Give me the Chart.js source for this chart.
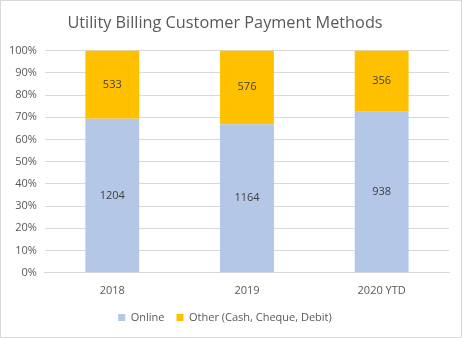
<!DOCTYPE html>
<html><head><meta charset="utf-8">
<script src="https://cdn.jsdelivr.net/npm/chart.js@4"></script>
<style>
html,body{margin:0;padding:0;background:#fff;}
#wrap{position:absolute;left:0;top:0;width:460px;height:336px;border:1px solid #d9d9d9;}
</style></head><body>
<div id="wrap"><canvas id="c" width="460" height="336"></canvas></div>
<script>
const categories = ["2018", "2019", "2020 YTD"];
const onlineCounts = [1204, 1164, 938];
const otherCounts = [533, 576, 356];
const seriesNames = ["Online", "Other (Cash, Cheque, Debit)"];
const tickLabels = ["0%","10%","20%","30%","40%","50%","60%","70%","80%","90%","100%"];

const totals = categories.map((_, i) => onlineCounts[i] + otherCounts[i]);
const onlinePct = onlineCounts.map((v, i) => v / totals[i] * 100);
const otherPct = otherCounts.map((v, i) => v / totals[i] * 100);

const FONT = '"Open Sans", "Liberation Sans", sans-serif';

const labelPlugin = {
  id: 'segLabels',
  afterDatasetsDraw(chart) {
    const ctx = chart.ctx;
    ctx.save();
    ctx.font = '11px ' + FONT;
    ctx.fillStyle = '#404040';
    ctx.textAlign = 'center';
    ctx.textBaseline = 'middle';
    chart.data.datasets.forEach((ds, di) => {
      const meta = chart.getDatasetMeta(di);
      meta.data.forEach((el, i) => {
        const y = (el.y + el.base) / 2;
        ctx.fillText(String(ds.counts[i]), el.x, y);
      });
    });
    ctx.restore();
  }
};

new Chart(document.getElementById('c'), {
  type: 'bar',
  data: {
    labels: categories,
    datasets: [
      { label: seriesNames[0], data: onlinePct, counts: onlineCounts, backgroundColor: '#b4c7e7', categoryPercentage: 1, barPercentage: 0.4 },
      { label: seriesNames[1], data: otherPct, counts: otherCounts, backgroundColor: '#ffc000', categoryPercentage: 1, barPercentage: 0.4 }
    ]
  },
  options: {
    responsive: false,
    animation: false,
    layout: { padding: { left: 0, right: 12, top: 4, bottom: 4 } },
    plugins: {
      title: { display: true, text: 'Utility Billing Customer Payment Methods', color: '#595959',
        font: { family: FONT, size: 16.3, weight: 'normal' }, padding: { top: 9, bottom: 17 } },
      legend: { position: 'bottom', labels: { boxWidth: 7, boxHeight: 7, color: '#595959', padding: 12,
        font: { family: FONT, size: 11 } } },
      tooltip: { enabled: false }
    },
    scales: {
      x: { stacked: true, grid: { display: false }, border: { color: '#d9d9d9' },
        ticks: { color: '#595959', font: { family: FONT, size: 11 } } },
      y: { stacked: true, min: 0, max: 100, border: { display: false },
        grid: { color: '#d9d9d9', drawTicks: false },
        ticks: { stepSize: 10, padding: 8, color: '#595959', font: { family: FONT, size: 11 },
          callback: (v) => tickLabels[Math.round(v / 10)] } }
    }
  },
  plugins: [labelPlugin]
});
</script>
</body></html>
